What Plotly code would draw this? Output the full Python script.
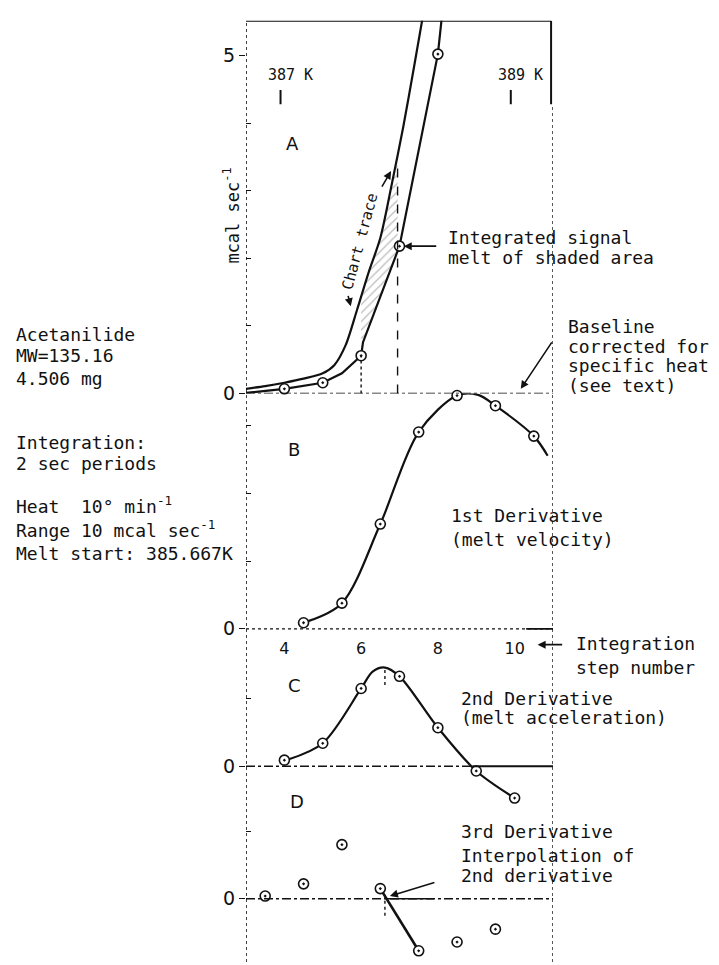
import plotly.graph_objects as go

W, H = 719, 965
def pyp(p):  # pixel row -> paper y
    return 1 - p / H

# ---------------- data ----------------
# Panel A : integrated signal (points at integration steps) and chart trace
a_steps = [4, 5, 6, 7, 8]
a_vals = [0.07, 0.16, 0.56, 2.18, 5.02]
a_line_x = [3.0, 4.0, 5.0, 5.5, 6.0, 6.05, 7.0, 8.0, 8.1]
a_line_y = [0.01, 0.07, 0.16, 0.30, 0.56, 0.76, 2.18, 5.02, 5.55]
chart_x = [3.0, 3.5, 4.0, 4.5, 5.0, 5.3, 5.6, 5.9, 6.2, 6.5, 6.8, 7.1, 7.4, 7.6]
chart_y = [0.07, 0.11, 0.16, 0.22, 0.30, 0.42, 0.72, 1.25, 1.8, 2.3, 3.1, 3.95, 4.9, 5.55]
shade_x = [6.0, 6.2, 6.5, 6.8, 6.95, 6.95, 6.5, 6.05, 6.0]
shade_y = [1.40, 1.8, 2.3, 3.1, 3.45, 2.1, 1.43, 0.76, 0.56]
temp_steps = [3.9, 9.9]
temp_labels = ["387 K", "389 K"]

# Panel B : 1st derivative (melt velocity)
b_steps = [4.5, 5.5, 6.5, 7.5, 8.5, 9.5, 10.5]
b_vals = [0.09, 0.38, 1.55, 2.91, 3.45, 3.30, 2.85]
b_curve_x = [4.6, 5.5, 6.5, 7.5, 8.5, 9.05, 9.5, 10.5, 10.86]
b_curve_y = [0.11, 0.38, 1.55, 2.91, 3.45, 3.46, 3.30, 2.85, 2.56]

# Panel C : 2nd derivative (melt acceleration)
c_steps = [4, 5, 6, 7, 8, 9, 10]
c_vals = [0.09, 0.34, 1.15, 1.33, 0.57, -0.07, -0.47]
c_curve_x = [4.1, 5.0, 6.0, 6.3, 6.62, 7.0, 8.0, 9.0, 10.0]
c_curve_y = [0.10, 0.34, 1.15, 1.40, 1.46, 1.33, 0.57, -0.07, -0.47]

# Panel D : 3rd derivative
d_steps = [3.5, 4.5, 5.5, 6.5, 7.5, 8.5, 9.5]
d_vals = [0.04, 0.22, 0.80, 0.15, -0.77, -0.64, -0.45]
d_interp_x = [6.5, 7.5]
d_interp_y = [0.15, -0.77]
zero_cross = 6.62

x_ticks = [4, 6, 8, 10]

FONT = "DejaVu Sans Mono"
BLACK = "#111111"

fig = go.Figure()

def markers(x, y, yaxis):
    fig.add_trace(go.Scatter(x=x, y=y, xaxis="x", yaxis=yaxis, mode="markers",
                             cliponaxis=False,
                             marker=dict(symbol="circle-dot", size=10, color="white",
                                         line=dict(color=BLACK, width=1.6)),
                             showlegend=False, hoverinfo="skip"))

def curve(x, y, yaxis, width=2.2, shape="spline", smoothing=1.0):
    fig.add_trace(go.Scatter(x=x, y=y, xaxis="x", yaxis=yaxis, mode="lines",
                             line=dict(color=BLACK, width=width, shape=shape,
                                       smoothing=smoothing),
                             showlegend=False, hoverinfo="skip"))

# shaded area (A)
fig.add_trace(go.Scatter(x=shade_x, y=shade_y, xaxis="x", yaxis="y", mode="lines",
                         fill="toself", fillcolor="rgba(0,0,0,0)",
                         fillpattern=dict(shape="/", fgcolor="#777", size=6, solidity=0.2),
                         line=dict(width=0), showlegend=False, hoverinfo="skip"))
curve(chart_x, chart_y, "y", smoothing=0.8)
curve(a_line_x, a_line_y, "y", shape="linear")
markers(a_steps, a_vals, "y")

curve(b_curve_x, b_curve_y, "y2", smoothing=0.9)
markers(b_steps, b_vals, "y2")

curve(c_curve_x, c_curve_y, "y3", smoothing=0.9)
markers(c_steps, c_vals, "y3")

curve(d_interp_x, d_interp_y, "y4", width=2.6, shape="linear")
markers(d_steps, d_vals, "y4")

# ---------------- axes ----------------
UNIT = 68.4
def ydom(zero_px, lo, hi):
    return [pyp(zero_px - lo * UNIT), pyp(zero_px - hi * UNIT)]

axis_common = dict(showgrid=False, zeroline=False, showline=False, anchor="x",
                   ticks="outside", ticklen=6, tickwidth=1.4, tickcolor=BLACK,
                   tickfont=dict(family="DejaVu Sans", size=19, color=BLACK),
                   fixedrange=True)
A_rng = [0, 5.512]
B_rng = [-0.25, 3.48]
C_rng = [-0.6, 1.78]
D_rng = [-0.93, 1.6]
fig.update_layout(
    width=W, height=H, margin=dict(l=0, r=0, t=0, b=0),
    paper_bgcolor="white", plot_bgcolor="rgba(0,0,0,0)",
    xaxis=dict(domain=[238 / W, 545 / W], range=[3, 11], anchor="free",
               position=pyp(636), showgrid=False, zeroline=False, showline=False,
               tickvals=x_ticks, ticks="", tickfont=dict(family="DejaVu Sans", size=16, color=BLACK)),
    yaxis=dict(domain=ydom(390, *A_rng), range=A_rng, tickvals=[0, 5], ticktext=["0", "5"],
               minor=dict(tickvals=[1, 2, 3, 4], ticks="inside", ticklen=5, tickcolor=BLACK),
               **axis_common),
    yaxis2=dict(domain=ydom(628, *B_rng), range=B_rng, tickvals=[0], ticktext=["0"],
                minor=dict(tickvals=[1, 2, 3], ticks="inside", ticklen=5, tickcolor=BLACK),
                **axis_common),
    yaxis3=dict(domain=ydom(767, *C_rng), range=C_rng, tickvals=[0], ticktext=["0"],
                minor=dict(tickvals=[1], ticks="inside", ticklen=5, tickcolor=BLACK),
                **axis_common),
    yaxis4=dict(domain=ydom(901, *D_rng), range=D_rng, tickvals=[0], ticktext=["0"],
                minor=dict(tickvals=[1], ticks="inside", ticklen=5, tickcolor=BLACK),
                **axis_common),
)

shapes = []
def line(x0, y0, x1, y1, yref="y", xref="x", dash="solid", width=1.4):
    shapes.append(dict(type="line", xref=xref, yref=yref, x0=x0, y0=y0, x1=x1, y1=y1,
                       line=dict(color=BLACK, width=width, dash=dash)))

# frame
line(3, 0, 3, pyp(13), yref="paper", dash="dot", width=1.6)
line(3, A_rng[1], 10.95, A_rng[1], width=2)
line(10.95, A_rng[1], 10.95, 4.28, width=2)
line(11, 0, 11, pyp(97), yref="paper", dash="dot", width=1.4)
# zero lines
line(3, 0, 11, 0, yref="y", dash="dashdot")
line(3, 0, 11, 0, yref="y2", dash="dot")
line(10.3, 0, 11, 0, yref="y2", width=1.6)
line(3, 0, 8.9, 0, yref="y3", dash="dashdot")
line(8.9, 0, 11, 0, yref="y3", width=1.8)
line(3, 0, 11, 0, yref="y4", dash="dashdot")
line(zero_cross + 0.05, 0, 7.9, 0, yref="y4", width=1.6)
# panel A helper verticals
line(6, 0, 6, a_vals[2], yref="y", dash="dot")
line(6.95, 0, 6.95, 3.45, yref="y", dash="dash")
for s in temp_steps:
    line(s, 4.28, s, 4.49, yref="y", width=2)
# interpolation verticals
line(zero_cross, 1.2, zero_cross, 1.45, yref="y3", dash="dot")
line(zero_cross, -0.25, zero_cross, 0.1, yref="y4", dash="dot")
fig.update_layout(shapes=shapes)

ann = []
def text(t, xpx, ypx, size=18, anchor="left", angle=0, family=FONT):
    ann.append(dict(text=t, xref="paper", yref="paper", x=xpx / W, y=pyp(ypx),
                    xanchor=anchor, yanchor="middle", showarrow=False, textangle=angle,
                    font=dict(family=family, size=size, color=BLACK)))

LX = 6
for t, y in [("Acetanilide", 330), ("MW=135.16", 352), ("4.506 mg", 375),
             ("Integration:", 440), ("2 sec periods", 461),
             ("Heat  10° min<sup>-1</sup>", 503), ("Range 10 mcal sec<sup>-1</sup>", 527),
             ("Melt start: 385.667K", 552)]:
    text(t, LX, y)
for t, s in zip(temp_labels, temp_steps):
    ann.append(dict(text=t, xref="x", yref="paper", x=s + 0.25, y=pyp(68), xanchor="center",
                    yanchor="middle", showarrow=False,
                    font=dict(family=FONT, size=15, color=BLACK)))
text("A", 276, 137, family="DejaVu Sans")
text("B", 278, 447, family="DejaVu Sans")
text("C", 278, 685, family="DejaVu Sans")
text("D", 280, 803, family="DejaVu Sans")
text("mcal sec<sup>-1</sup>", 223, 210, size=17, anchor="center", angle=-90)
text("Chart trace", 352, 237, size=15, anchor="center", angle=-75)
for t, y in [("Integrated signal", 232), ("melt of shaded area", 252)]:
    text(t, 438, y)
for t, y in [("Baseline", 322), ("corrected for", 342), ("specific heat", 362), ("(see text)", 382)]:
    text(t, 558, y)
for t, y in [("1st Derivative", 513), ("(melt velocity)", 538)]:
    text(t, 441, y)
for t, y in [("Integration", 643), ("step number", 667)]:
    text(t, 566, y)
for t, y in [("2nd Derivative", 698), ("(melt acceleration)", 718)]:
    text(t, 451, y)
for t, y in [("3rd Derivative", 833), ("Interpolation of", 857), ("2nd derivative", 877)]:
    text(t, 451, y)

def arrow(x, y, yref, ax, ay, xref="x"):
    ann.append(dict(text="", x=x, y=y, xref=xref, yref=yref, ax=ax, ay=ay,
                    showarrow=True, arrowhead=2, arrowsize=1, arrowwidth=1.6,
                    arrowcolor=BLACK))

arrow(7.11, 2.18, "y", 34, 0)
arrow(6.78, 3.29, "y", -10, 17)
arrow(5.73, 1.29, "y", -3, -12)
arrow(10.16, 0.07, "y", 32, -48)
arrow(10.6, pyp(644), "paper", 26, 0)
arrow(6.75, 0.04, "y4", 46, -14)

fig.update_layout(annotations=ann)
fig.write_html("out.html")
